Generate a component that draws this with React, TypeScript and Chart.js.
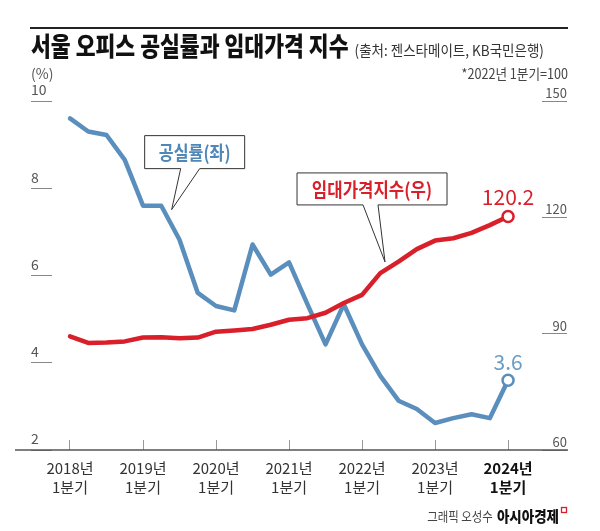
import { useEffect, useRef } from "react";
import { Chart, registerables } from "chart.js";

Chart.register(...registerables);

// ---- data ----
const quarterIndex = [0, 1, 2, 3, 4, 5, 6, 7, 8, 9, 10, 11, 12, 13, 14, 15, 16, 17, 18, 19, 20, 21, 22, 23, 24];
const vacancyRate = [9.6, 9.3, 9.22, 8.65, 7.6, 7.6, 6.82, 5.6, 5.3, 5.2, 6.71, 6.02, 6.3, 5.35, 4.42, 5.34, 4.42, 3.7, 3.13, 2.94, 2.62, 2.73, 2.82, 2.73, 3.6];
const rentIndex = [89.3, 87.6, 87.7, 88.0, 89.0, 89.1, 88.8, 89.0, 90.5, 90.8, 91.2, 92.3, 93.6, 94.0, 95.4, 97.9, 100, 105.6, 108.6, 111.8, 114.0, 114.6, 116.0, 118.0, 120.2];
const yearTickValues = [0, 4, 8, 12, 16, 20, 24];
const yearTickLabels = [
  ["2018년", "1분기"],
  ["2019년", "1분기"],
  ["2020년", "1분기"],
  ["2021년", "1분기"],
  ["2022년", "1분기"],
  ["2023년", "1분기"],
  ["2024년", "1분기"],
];
const leftTicks = [2, 4, 6, 8, 10];
const rightTicks = [60, 90, 120, 150];

const TITLE = "서울 오피스 공실률과 임대가격 지수";
const SOURCE = "(출처: 젠스타메이트, KB국민은행)";
const UNIT = "(%)";
const NOTE = "*2022년 1분기=100";
const VACANCY_LABEL = "공실률(좌)";
const RENT_LABEL = "임대가격지수(우)";
const CREDIT_A = "그래픽 오성수";
const CREDIT_B = "아시아경제";

const BLUE = "#5a8fbd";
const BLUE_TEXT = "#4f87b9";
const RED = "#d81f2a";
const FONT_NARROW = "'Liberation Sans Narrow', 'Noto Sans CJK KR', 'Noto Sans', sans-serif";
const FONT_KR = "'Noto Sans CJK KR', 'Noto Sans', sans-serif";

function drawText(
  ctx: CanvasRenderingContext2D,
  text: string,
  x: number,
  y: number,
  font: string,
  color: string,
  align: "left" | "center" | "right",
  sx = 1,
  baseline: CanvasTextBaseline = "alphabetic"
) {
  ctx.save();
  ctx.font = font;
  ctx.fillStyle = color;
  ctx.textBaseline = baseline;
  ctx.textAlign = "left";
  const w = ctx.measureText(text).width * sx;
  const left = align === "left" ? x : align === "center" ? x - w / 2 : x - w;
  ctx.translate(left, y);
  ctx.scale(sx, 1);
  ctx.fillText(text, 0, 0);
  ctx.restore();
  return w;
}

function drawCallout(
  ctx: CanvasRenderingContext2D,
  left: number,
  top: number,
  w: number,
  h: number,
  baseL: number,
  baseR: number,
  tipX: number,
  tipY: number,
  text: string,
  color: string,
  sx: number
) {
  const right = left + w;
  const bottom = top + h;
  ctx.save();
  ctx.beginPath();
  ctx.moveTo(left, top);
  ctx.lineTo(right, top);
  ctx.lineTo(right, bottom);
  ctx.lineTo(baseR, bottom);
  ctx.lineTo(tipX, tipY);
  ctx.lineTo(baseL, bottom);
  ctx.lineTo(left, bottom);
  ctx.closePath();
  ctx.fillStyle = "#fff";
  ctx.fill();
  ctx.strokeStyle = "#333";
  ctx.lineWidth = 1;
  ctx.stroke();
  ctx.restore();
  drawText(ctx, text, left + w / 2, top + h / 2 + 1, `bold 19px ${FONT_KR}`, color, "center", sx, "middle");
}

const decorPlugin = {
  id: "decor",
  beforeDatasetsDraw(chart: any) {
    const ctx: CanvasRenderingContext2D = chart.ctx;
    const xs = chart.scales.x;
    ctx.save();
    ctx.strokeStyle = "#555";
    ctx.lineWidth = 1.5;
    ctx.beginPath();
    ctx.moveTo(15, xs.top);
    ctx.lineTo(568, xs.top);
    ctx.stroke();
    ctx.restore();
  },
  afterDraw(chart: any) {
    const ctx: CanvasRenderingContext2D = chart.ctx;
    const xs = chart.scales.x;
    const ys = chart.scales.y;
    const ys1 = chart.scales.y1;

    // header rule
    ctx.save();
    ctx.strokeStyle = "#222";
    ctx.lineWidth = 2;
    ctx.beginPath();
    ctx.moveTo(30, 28);
    ctx.lineTo(568, 28);
    ctx.stroke();
    ctx.restore();

    const tw = drawText(ctx, TITLE, 31, 56, `900 26px ${FONT_KR}`, "#111", "left", 0.83);
    drawText(ctx, SOURCE, 31 + tw + 6, 56, `15px ${FONT_KR}`, "#333", "left", 0.9);
    drawText(ctx, UNIT, 31, 79, `14px ${FONT_NARROW}`, "#555", "left", 1);
    drawText(ctx, NOTE, 568, 79, `14px ${FONT_NARROW}`, "#444", "right", 0.9);

    // callouts anchored to the scales
    const bTipX = xs.getPixelForValue(5.57);
    const bTipY = ys.getPixelForValue(7.51);
    drawCallout(ctx, bTipX - 27, bTipY - 74, 100, 33, bTipX + 9, bTipX + 28, bTipX, bTipY, VACANCY_LABEL, BLUE_TEXT, 0.85);

    const rTipX = xs.getPixelForValue(17.26);
    const rTipY = ys1.getPixelForValue(108.5);
    drawCallout(ctx, rTipX - 88, rTipY - 89, 150, 32, rTipX - 22, rTipX - 7, rTipX, rTipY, RENT_LABEL, RED, 0.88);

    // end value labels
    const metaRent = chart.getDatasetMeta(0);
    const metaVac = chart.getDatasetMeta(1);
    const lastRent = metaRent.data[metaRent.data.length - 1];
    const lastVac = metaVac.data[metaVac.data.length - 1];
    drawText(ctx, rentIndex[rentIndex.length - 1].toFixed(1), lastRent.x, lastRent.y - 20, `21px ${FONT_NARROW}`, RED, "center", 1, "middle");
    drawText(ctx, vacancyRate[vacancyRate.length - 1].toFixed(1), lastVac.x, lastVac.y - 18, `21px ${FONT_NARROW}`, "#6a9cc6", "center", 1, "middle");

    // credit
    const cbw = drawText(ctx, CREDIT_B, 559, 522, `900 15px ${FONT_KR}`, "#111", "right", 0.9);
    drawText(ctx, CREDIT_A, 559 - cbw - 4, 521, `13px ${FONT_KR}`, "#444", "right", 0.88);
    ctx.save();
    ctx.strokeStyle = RED;
    ctx.lineWidth = 1.3;
    ctx.strokeRect(561.5, 507.5, 5, 5);
    ctx.restore();
  },
};

export default function App() {
  const ref = useRef<HTMLCanvasElement>(null);
  useEffect(() => {
    const lastIdx = quarterIndex.length - 1;
    const pointR = (c: any) => (c.dataIndex === lastIdx ? 5.5 : 0);
    const chart = new Chart(ref.current as HTMLCanvasElement, {
      type: "line",
      data: {
        datasets: [
          {
            label: "임대가격지수",
            data: quarterIndex.map((q, i) => ({ x: q, y: rentIndex[i] })),
            yAxisID: "y1",
            borderColor: RED,
            borderWidth: 4.5,
            pointRadius: pointR,
            pointBackgroundColor: "#fff",
            pointBorderColor: RED,
            pointBorderWidth: 2.5,
            tension: 0,
            borderJoinStyle: "round",
            borderCapStyle: "round",
            fill: false,
          },
          {
            label: "공실률",
            data: quarterIndex.map((q, i) => ({ x: q, y: vacancyRate[i] })),
            yAxisID: "y",
            borderColor: BLUE,
            borderWidth: 4.5,
            pointRadius: pointR,
            pointBackgroundColor: "#fff",
            pointBorderColor: BLUE,
            pointBorderWidth: 2.5,
            tension: 0,
            borderJoinStyle: "round",
            borderCapStyle: "round",
            fill: false,
          },
        ],
      },
      options: {
        responsive: false,
        animation: false,
        devicePixelRatio: 1,
        layout: { padding: { left: 31, right: 33, top: 101, bottom: 0 } },
        plugins: { legend: { display: false }, tooltip: { enabled: false } },
        scales: {
          x: {
            type: "linear",
            min: -0.986,
            max: 25.86,
            afterBuildTicks: (scale: any) => {
              scale.ticks = yearTickValues.map((v) => ({ value: v }));
            },
            afterFit: (scale: any) => {
              scale.height = 81;
            },
            border: { display: false },
            grid: {
              drawOnChartArea: false,
              drawTicks: true,
              tickLength: -10,
              color: "#999",
              lineWidth: 1,
            },
            ticks: {
              autoSkip: false,
              maxRotation: 0,
              padding: 18,
              color: (c: any) => (c.index === yearTickValues.length - 1 ? "#111" : "#333"),
              font: (c: any) => ({
                family: FONT_NARROW,
                size: 15,
                lineHeight: 1.32,
                weight: c.index === yearTickValues.length - 1 ? "bold" : "normal",
              }),
              callback: (value: any) => yearTickLabels[yearTickValues.indexOf(Number(value))] ?? "",
            },
          },
          y: {
            type: "linear",
            position: "left",
            min: 2,
            max: 10,
            afterBuildTicks: (scale: any) => {
              scale.ticks = leftTicks.map((v) => ({ value: v }));
            },
            afterFit: (scale: any) => {
              scale.width = 21;
            },
            border: { display: false },
            grid: { drawOnChartArea: false, drawTicks: true, tickLength: 21, color: "#888", lineWidth: 1 },
            ticks: {
              crossAlign: "far",
              labelOffset: -11,
              padding: 0,
              color: "#555",
              font: { family: FONT_NARROW, size: 14 },
            },
          },
          y1: {
            type: "linear",
            position: "right",
            min: 60,
            max: 150,
            afterBuildTicks: (scale: any) => {
              scale.ticks = rightTicks.map((v) => ({ value: v }));
            },
            afterFit: (scale: any) => {
              scale.width = 25;
            },
            border: { display: false },
            grid: { drawOnChartArea: false, drawTicks: true, tickLength: 25, color: "#888", lineWidth: 1 },
            ticks: {
              crossAlign: "far",
              labelOffset: -8,
              padding: 0,
              color: "#555",
              font: { family: FONT_NARROW, size: 13 },
            },
          },
        },
      },
      plugins: [decorPlugin],
    } as any);
    return () => chart.destroy();
  }, []);
  return (
    <div style={{ position: "fixed", left: 0, top: 0, width: 600, height: 531, background: "#fff" }}>
      <canvas ref={ref} width={600} height={531} style={{ display: "block", width: 600, height: 531 }} />
    </div>
  );
}
